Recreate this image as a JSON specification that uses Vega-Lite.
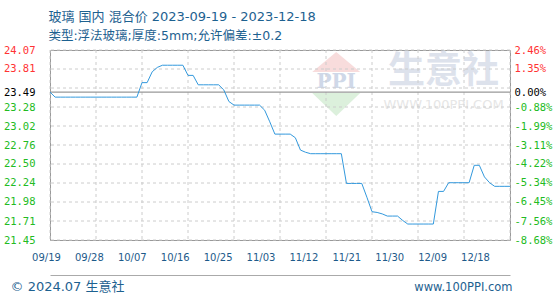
{
  "$schema": "https://vega.github.io/schema/vega-lite/v6.json",
  "width": 460,
  "height": 190,
  "autosize": {"type": "none"},
  "padding": {"left": 50, "top": 50, "right": 50, "bottom": 60},
  "background": "white",
  "title": {
    "text": "玻璃 国内 混合价 2023-09-19 - 2023-12-18",
    "subtitle": "类型:浮法玻璃;厚度:5mm;允许偏差:±0.2",
    "anchor": "start",
    "frame": "bounds",
    "dx": 45,
    "font": "DejaVu Sans, Noto Sans CJK SC",
    "fontSize": 13,
    "fontWeight": "normal",
    "color": "#1d6190",
    "subtitleFont": "DejaVu Sans, Noto Sans CJK SC",
    "subtitleFontSize": 12.5,
    "subtitleColor": "#1d6190",
    "subtitlePadding": 6,
    "offset": 3
  },
  "config": {"view": {"stroke": "#999999", "strokeWidth": 1}},
  "resolve": {"scale": {"y": "independent"}},
  "layer": [
    {
      "encoding": {
        "x": {"field": "d", "type": "temporal"},
        "y": {"field": "p", "type": "quantitative", "scale": {"domain": [21.45, 24.07], "zero": false, "nice": false}, "axis": null}
      },
      "layer": [
        {
          "data": {"values": [{"d": "2023-11-14", "p": 23.905}]},
          "mark": {"type": "point", "shape": "M-1,0.42L0,-0.42L1,0.42Z", "size": 2304, "filled": true, "color": "#f8dcdc", "opacity": 1}
        },
        {
          "data": {"values": [{"d": "2023-11-14", "p": 23.318}]},
          "mark": {"type": "point", "shape": "M-1,-0.48L1,-0.48L0,0.48Z", "size": 2304, "filled": true, "color": "#dcf0dc", "opacity": 1}
        },
        {
          "data": {"values": [{"d": "2023-11-14", "p": 23.629, "t": "PPI"}]},
          "mark": {"type": "text", "font": "DejaVu Serif", "fontSize": 20, "fontWeight": "bold", "color": "#cfd8e8", "align": "center", "baseline": "middle"},
          "encoding": {"text": {"field": "t"}}
        },
        {
          "data": {"values": [{"d": "2023-12-05", "p": 23.767, "t": "生意社"}]},
          "mark": {"type": "text", "font": "Noto Sans CJK SC", "fontSize": 37, "fontWeight": "bold", "color": "#dde2ec", "align": "center", "baseline": "middle"},
          "encoding": {"text": {"field": "t"}}
        },
        {
          "data": {"values": [{"d": "2023-12-05", "p": 23.31, "t": "WWW.100PPI.COM"}]},
          "mark": {"type": "text", "font": "DejaVu Sans", "fontSize": 13, "color": "#e6e6e6", "align": "center", "baseline": "middle"},
          "encoding": {"text": {"field": "t"}}
        }
      ]
    },
    {
      "data": {"values": [{"d": "2023-09-19"}, {"d": "2023-09-28"}, {"d": "2023-10-07"}, {"d": "2023-10-16"}, {"d": "2023-10-25"}, {"d": "2023-11-03"}, {"d": "2023-11-12"}, {"d": "2023-11-21"}, {"d": "2023-11-30"}, {"d": "2023-12-09"}, {"d": "2023-12-18"}]},
      "mark": {"type": "rule", "color": "#cccccc", "strokeWidth": 1, "strokeDash": [3, 3]},
      "encoding": {
        "x": {"field": "d", "type": "temporal"}
      }
    },
    {
      "data": {"values": [{"g": 24.07}, {"g": 23.808}, {"g": 23.546}, {"g": 23.284}, {"g": 23.022}, {"g": 22.76}, {"g": 22.498}, {"g": 22.236}, {"g": 21.974}, {"g": 21.712}, {"g": 21.45}]},
      "mark": {"type": "rule", "color": "#cccccc", "strokeWidth": 1, "strokeDash": [3, 3]},
      "encoding": {
        "y": {
          "field": "g", "type": "quantitative",
          "scale": {"domain": [21.45, 24.07], "zero": false, "nice": false},
          "axis": {
            "orient": "right",
            "values": [24.07, 23.81, 23.49, 23.28, 23.02, 22.76, 22.5, 22.24, 21.98, 21.71, 21.45],
            "labelExpr": "['2.46%','1.35%','0.00%','-0.88%','-1.99%','-3.11%','-4.22%','-5.34%','-6.45%','-7.56%','-8.68%'][indexof(['24.07','23.81','23.49','23.28','23.02','22.76','22.50','22.24','21.98','21.71','21.45'], format(datum.value, '.2f'))]",
            "grid": false, "ticks": false, "tickSize": 0, "domain": false,
            "labelPadding": 4,
            "labelFont": "DejaVu Sans Mono", "labelFontSize": 10.5,
            "labelOverlap": false, "labelFlush": false,
            "labelColor": {"condition": [{"test": "datum.value > 23.5", "value": "#ff3333"}, {"test": "datum.value < 23.48", "value": "#22bb22"}], "value": "#000000"},
            "title": "www.100PPI.com",
            "titleAngle": 0, "titleAlign": "right", "titleBaseline": "alphabetic",
            "titleX": 2, "titleY": 240,
            "titleFont": "DejaVu Sans", "titleFontSize": 11.5, "titleFontWeight": "normal", "titleColor": "#1d6190"
          }
        }
      }
    },
    {
      "data": {"values": [{}]},
      "mark": {"type": "rule", "color": "#999999", "strokeWidth": 1.3},
      "encoding": {
        "y": {"datum": 23.49, "type": "quantitative", "scale": {"domain": [21.45, 24.07], "zero": false, "nice": false}, "axis": null}
      }
    },
    {
      "data": {"values": [
        {"d": "2023-09-19", "p": 23.49}, {"d": "2023-09-20", "p": 23.42}, {"d": "2023-09-21", "p": 23.42}, {"d": "2023-09-22", "p": 23.42}, {"d": "2023-09-23", "p": 23.42}, {"d": "2023-09-24", "p": 23.42}, {"d": "2023-09-25", "p": 23.42}, {"d": "2023-09-26", "p": 23.42}, {"d": "2023-09-27", "p": 23.42}, {"d": "2023-09-28", "p": 23.42}, {"d": "2023-09-29", "p": 23.42}, {"d": "2023-09-30", "p": 23.42},
        {"d": "2023-10-01", "p": 23.42}, {"d": "2023-10-02", "p": 23.42}, {"d": "2023-10-03", "p": 23.42}, {"d": "2023-10-04", "p": 23.42}, {"d": "2023-10-05", "p": 23.42}, {"d": "2023-10-06", "p": 23.42}, {"d": "2023-10-07", "p": 23.62}, {"d": "2023-10-08", "p": 23.62}, {"d": "2023-10-09", "p": 23.77}, {"d": "2023-10-10", "p": 23.83},
        {"d": "2023-10-11", "p": 23.86}, {"d": "2023-10-12", "p": 23.86}, {"d": "2023-10-13", "p": 23.86}, {"d": "2023-10-14", "p": 23.86}, {"d": "2023-10-15", "p": 23.86}, {"d": "2023-10-16", "p": 23.72}, {"d": "2023-10-17", "p": 23.72}, {"d": "2023-10-18", "p": 23.59}, {"d": "2023-10-19", "p": 23.59}, {"d": "2023-10-20", "p": 23.59},
        {"d": "2023-10-21", "p": 23.59}, {"d": "2023-10-22", "p": 23.59}, {"d": "2023-10-23", "p": 23.52}, {"d": "2023-10-24", "p": 23.36}, {"d": "2023-10-25", "p": 23.31}, {"d": "2023-10-26", "p": 23.31}, {"d": "2023-10-27", "p": 23.31}, {"d": "2023-10-28", "p": 23.31}, {"d": "2023-10-29", "p": 23.31}, {"d": "2023-10-30", "p": 23.31},
        {"d": "2023-10-31", "p": 23.24}, {"d": "2023-11-01", "p": 23.08}, {"d": "2023-11-02", "p": 22.91}, {"d": "2023-11-03", "p": 22.91}, {"d": "2023-11-04", "p": 22.91}, {"d": "2023-11-05", "p": 22.91}, {"d": "2023-11-06", "p": 22.86}, {"d": "2023-11-07", "p": 22.69}, {"d": "2023-11-08", "p": 22.66}, {"d": "2023-11-09", "p": 22.64},
        {"d": "2023-11-10", "p": 22.64}, {"d": "2023-11-11", "p": 22.64}, {"d": "2023-11-12", "p": 22.64}, {"d": "2023-11-13", "p": 22.64}, {"d": "2023-11-14", "p": 22.64}, {"d": "2023-11-15", "p": 22.64}, {"d": "2023-11-16", "p": 22.23}, {"d": "2023-11-17", "p": 22.23}, {"d": "2023-11-18", "p": 22.23}, {"d": "2023-11-19", "p": 22.23},
        {"d": "2023-11-20", "p": 22.04}, {"d": "2023-11-21", "p": 21.84}, {"d": "2023-11-22", "p": 21.83}, {"d": "2023-11-23", "p": 21.81}, {"d": "2023-11-24", "p": 21.78}, {"d": "2023-11-25", "p": 21.78}, {"d": "2023-11-26", "p": 21.78}, {"d": "2023-11-27", "p": 21.72}, {"d": "2023-11-28", "p": 21.67}, {"d": "2023-11-29", "p": 21.67},
        {"d": "2023-11-30", "p": 21.67}, {"d": "2023-12-01", "p": 21.67}, {"d": "2023-12-02", "p": 21.67}, {"d": "2023-12-03", "p": 21.67}, {"d": "2023-12-04", "p": 22.12}, {"d": "2023-12-05", "p": 22.12}, {"d": "2023-12-06", "p": 22.24}, {"d": "2023-12-07", "p": 22.24}, {"d": "2023-12-08", "p": 22.24}, {"d": "2023-12-09", "p": 22.24},
        {"d": "2023-12-10", "p": 22.24}, {"d": "2023-12-11", "p": 22.48}, {"d": "2023-12-12", "p": 22.48}, {"d": "2023-12-13", "p": 22.32}, {"d": "2023-12-14", "p": 22.24}, {"d": "2023-12-15", "p": 22.19}, {"d": "2023-12-16", "p": 22.19}, {"d": "2023-12-17", "p": 22.19}, {"d": "2023-12-18", "p": 22.19}
      ]},
      "mark": {"type": "line", "color": "#3399dd", "strokeWidth": 1},
      "encoding": {
        "x": {
          "field": "d", "type": "temporal",
          "scale": {"type": "utc", "domain": [{"year": 2023, "month": 9, "date": 19, "utc": true}, {"year": 2023, "month": 12, "date": 18, "utc": true}]},
          "axis": {
            "values": [
              {"year": 2023, "month": 9, "date": 19, "utc": true}, {"year": 2023, "month": 9, "date": 28, "utc": true},
              {"year": 2023, "month": 10, "date": 7, "utc": true}, {"year": 2023, "month": 10, "date": 16, "utc": true},
              {"year": 2023, "month": 10, "date": 25, "utc": true}, {"year": 2023, "month": 11, "date": 3, "utc": true},
              {"year": 2023, "month": 11, "date": 12, "utc": true}, {"year": 2023, "month": 11, "date": 21, "utc": true},
              {"year": 2023, "month": 11, "date": 30, "utc": true}, {"year": 2023, "month": 12, "date": 9, "utc": true},
              {"year": 2023, "month": 12, "date": 18, "utc": true}
            ],
            "format": "%m/%d",
            "grid": false, "ticks": false, "tickSize": 0,
            "domain": true, "domainColor": "#aaaaaa", "domainWidth": 1,
            "offset": 35,
            "labelPadding": -23,
            "labelFont": "DejaVu Sans", "labelFontSize": 10, "labelColor": "#1d5a8a",
            "labelOffset": {"expr": "-4 - 3.1 * (datum.value - utc(2023, 8, 19)) / (9 * 864e5)"},
            "labelOverlap": false, "labelFlush": false,
            "title": null
          }
        },
        "y": {
          "field": "p", "type": "quantitative",
          "scale": {"domain": [21.45, 24.07], "zero": false, "nice": false},
          "axis": {
            "orient": "left",
            "values": [24.07, 23.81, 23.49, 23.28, 23.02, 22.76, 22.5, 22.24, 21.98, 21.71, 21.45],
            "format": ".2f",
            "grid": false, "ticks": false, "tickSize": 0, "domain": false,
            "labelPadding": 15,
            "labelFont": "DejaVu Sans Mono", "labelFontSize": 10.5,
            "labelOverlap": false, "labelFlush": false,
            "labelColor": {"condition": [{"test": "datum.value > 23.5", "value": "#ff3333"}, {"test": "datum.value < 23.48", "value": "#22bb22"}], "value": "#000000"},
            "title": "© 2024.07 生意社",
            "titleAngle": 0, "titleAlign": "left", "titleBaseline": "alphabetic",
            "titleX": -40, "titleY": 240,
            "titleFont": "DejaVu Sans, Noto Sans CJK SC", "titleFontSize": 13, "titleFontWeight": "normal", "titleColor": "#1d6190"
          }
        }
      }
    }
  ]
}
